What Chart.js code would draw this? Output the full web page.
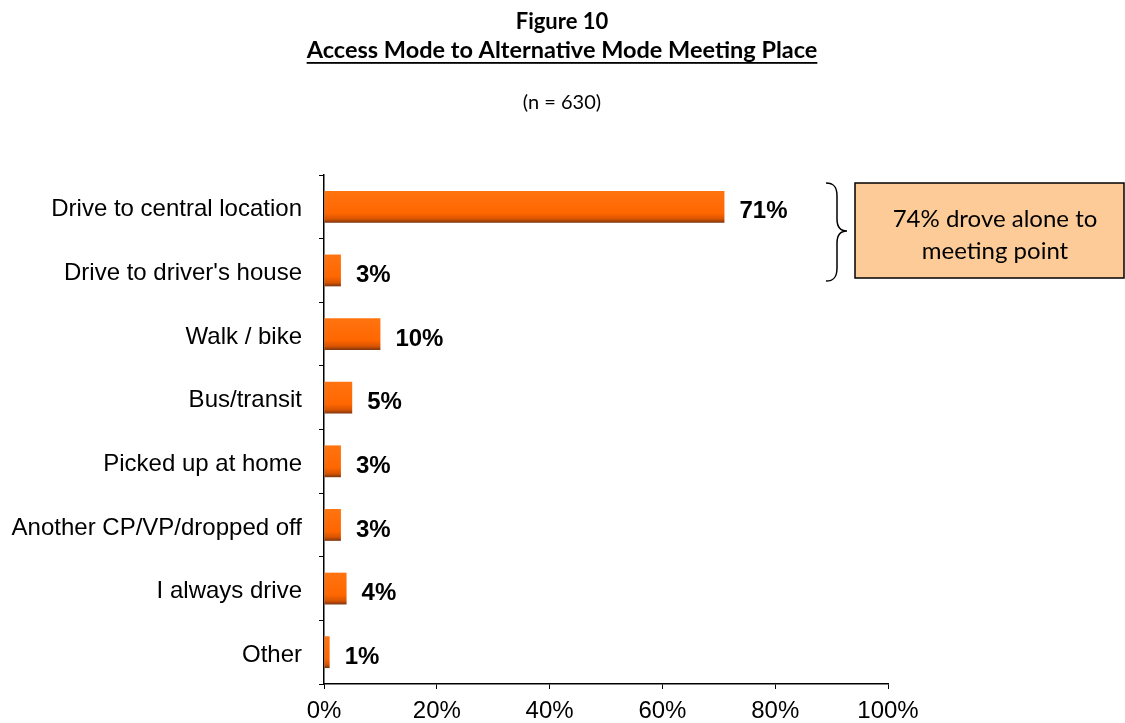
<!DOCTYPE html>
<html>
<head>
<meta charset="utf-8">
<script src="https://cdn.jsdelivr.net/npm/chart.js@4.4.0/dist/chart.umd.min.js"></script>
<style>
  html, body { margin: 0; padding: 0; background: #fff; }
  #wrap { width: 1125px; height: 723px; position: relative; }
</style>
</head>
<body>
<div id="wrap"><canvas id="chart" width="1125" height="723"></canvas></div>
<script>
// data
const categories = [
    'Drive to central location',
    "Drive to driver's house",
    'Walk / bike',
    'Bus/transit',
    'Picked up at home',
    'Another CP/VP/dropped off',
    'I always drive',
    'Other'
];
const shares = [71, 3, 10, 5, 3, 3, 4, 1];
const xTicks = [0, 20, 40, 60, 80, 100];

const titleLines = ['Figure 10', 'Access Mode to Alternative Mode Meeting Place'];
const subtitle = '(n = 630)';
const calloutLines = ['74% drove alone to', 'meeting point'];

const LABEL_FONT = '"Liberation Sans", Arial, sans-serif';
const TITLE_FONT = 'Lato, "Open Sans", sans-serif';

function barFill(context) {
    const chart = context.chart;
    if (!chart.chartArea) return '#FF6600';
    const y = chart.scales.y.getPixelForValue(context.dataIndex);
    const g = chart.ctx.createLinearGradient(0, y - 16, 0, y + 16);
    g.addColorStop(0, '#FF7410');
    g.addColorStop(0.7, '#FF6600');
    g.addColorStop(0.88, '#D85400');
    g.addColorStop(1, '#7A3410');
    return g;
}

// title, value labels, brace and callout box
const decorations = {
    id: 'decorations',
    afterDraw(chart) {
        const ctx = chart.ctx;
        const xs = chart.scales.x, ys = chart.scales.y;
        ctx.save();
        ctx.fillStyle = '#000';
        ctx.textAlign = 'center';
        ctx.textBaseline = 'middle';

        ctx.font = 'bold 22px ' + TITLE_FONT;
        ctx.fillText(titleLines[0], 562, 22);
        ctx.font = 'bold 23.5px ' + TITLE_FONT;
        ctx.fillText(titleLines[1], 562, 50);
        const w = ctx.measureText(titleLines[1]).width;
        ctx.fillRect(562 - w / 2, 62, w, 1.8);

        ctx.font = '20px ' + TITLE_FONT;
        ctx.fillText(subtitle, 562, 103);

        // value labels
        ctx.textAlign = 'left';
        ctx.font = 'bold 24px ' + LABEL_FONT;
        shares.forEach((v, i) => {
            ctx.fillText(v + '%', xs.getPixelForValue(v) + 15, ys.getPixelForValue(i) + 5);
        });

        // brace
        ctx.strokeStyle = '#000';
        ctx.lineWidth = 1.5;
        ctx.beginPath();
        ctx.moveTo(826, 183);
        ctx.bezierCurveTo(834, 183, 837, 187, 837, 196);
        ctx.lineTo(837, 219);
        ctx.bezierCurveTo(837, 227, 840, 231, 847, 231);
        ctx.bezierCurveTo(840, 231, 837, 235, 837, 243);
        ctx.lineTo(837, 268);
        ctx.bezierCurveTo(837, 277, 834, 281, 826, 281);
        ctx.stroke();

        // callout box
        ctx.fillStyle = '#FDCB98';
        ctx.fillRect(855, 183, 269, 95);
        ctx.strokeRect(855, 183, 269, 95);
        ctx.fillStyle = '#000';
        ctx.textAlign = 'center';
        ctx.font = '24px ' + TITLE_FONT;
        ctx.fillText(calloutLines[0], 995, 219);
        ctx.fillText(calloutLines[1], 995, 251);
        ctx.restore();
    }
};

new Chart(document.getElementById('chart').getContext('2d'), {
    type: 'bar',
    data: {
        labels: categories,
        datasets: [{
            data: shares,
            backgroundColor: barFill,
            borderWidth: 0,
            barPercentage: 0.5,
            categoryPercentage: 1
        }]
    },
    options: {
        indexAxis: 'y',
        responsive: false,
        animation: false,
        layout: { padding: { top: 175, right: 237, bottom: 0, left: 0 } },
        plugins: {
            legend: { display: false },
            tooltip: { enabled: false }
        },
        scales: {
            x: {
                min: 0,
                max: 100,
                afterFit(scale) { scale.height = 39; },
                afterBuildTicks(scale) { scale.ticks = xTicks.map(v => ({ value: v })); },
                grid: { drawOnChartArea: false, tickLength: 5, color: '#000' },
                border: { color: '#000', width: 1.5 },
                ticks: {
                    callback: v => v + '%',
                    color: '#000',
                    padding: 8,
                    font: { family: LABEL_FONT, size: 24 }
                }
            },
            y: {
                afterFit(scale) { scale.width = 324; },
                grid: { drawOnChartArea: false, tickLength: 5, color: '#000', offset: true },
                border: { color: '#000', width: 1.5 },
                ticks: {
                    color: '#000',
                    padding: 17,
                    labelOffset: 3,
                    font: { family: LABEL_FONT, size: 24 }
                }
            }
        }
    },
    plugins: [decorations]
});
</script>
</body>
</html>
